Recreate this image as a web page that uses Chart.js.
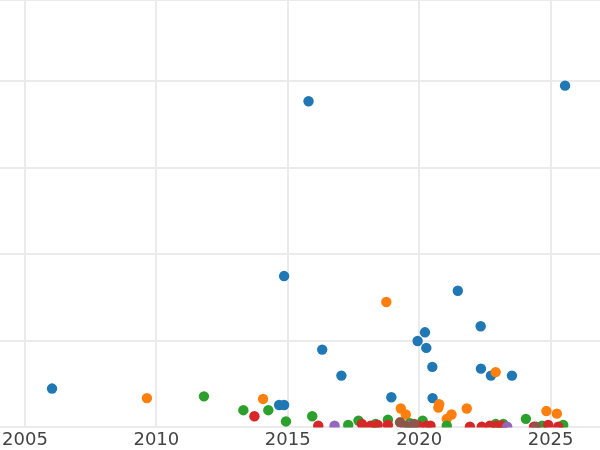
<!DOCTYPE html>
<html>
<head>
<meta charset="utf-8">
<script src="https://cdn.jsdelivr.net/npm/chart.js@4/dist/chart.umd.min.js"></script>
<style>
html,body{margin:0;padding:0;background:#fff;}
#c{display:block;}
</style>
</head>
<body>
<canvas id="c" width="600" height="450"></canvas>
<script>
// Series data: [year, value]
const blueX = [2006.03,2015.79,2025.55,2014.86,2016.31,2017.04,2014.67,2014.86,2018.94,2019.94,2020.22,2020.27,2020.50,2020.51,2021.47,2022.34,2022.35,2022.73,2023.53];
const blueY = [0.45,3.77,3.95,1.75,0.90,0.60,0.26,0.26,0.35,1.00,1.10,0.92,0.70,0.34,1.58,1.17,0.68,0.60,0.60];

const orangeX = [2009.64,2014.06,2018.75,2019.30,2019.49,2020.76,2020.73,2021.05,2021.23,2021.81,2022.91,2024.84,2025.24];
const orangeY = [0.34,0.33,1.45,0.22,0.15,0.27,0.23,0.10,0.15,0.22,0.64,0.19,0.16];

const greenX = [2011.81,2013.31,2014.26,2014.93,2015.93,2017.30,2017.69,2018.34,2018.81,2019.65,2020.13,2021.05,2022.91,2023.20,2024.06,2024.68,2025.48];
const greenY = [0.36,0.20,0.20,0.07,0.13,0.03,0.08,0.04,0.09,0.05,0.08,0.02,0.04,0.04,0.10,0.02,0.03];

const redX = [2013.73,2016.16,2017.82,2018.15,2018.42,2018.81,2019.97,2020.29,2020.43,2021.93,2022.38,2022.69,2022.95,2023.14,2024.37,2024.91,2025.29];
const redY = [0.13,0.02,0.04,0.02,0.03,0.03,0.02,0.02,0.02,0.01,0.01,0.02,0.02,0.02,0.01,0.03,0.01];

const purpleX = [2016.78,2019.61,2023.35];
const purpleY = [0.02,0.02,0.01];

const brownX = [2019.27,2019.46,2019.81,2024.45];
const brownY = [0.06,0.02,0.04,0.01];

const xTickLabels = [2005,2010,2015,2020,2025];

function pts(xs, ys){ return xs.map((x,i)=>({x:x,y:ys[i]})); }

const series = [
  {data: pts(blueX, blueY), color:'#1f77b4', order:6},
  {data: pts(orangeX, orangeY), color:'#ff7f0e', order:5},
  {data: pts(greenX, greenY), color:'#2ca02c', order:4},
  {data: pts(redX, redY), color:'#d62728', order:3},
  {data: pts(purpleX, purpleY), color:'#9467bd', order:2},
  {data: pts(brownX, brownY), color:'#8c564b', order:1}
];

new Chart(document.getElementById('c'), {
  type: 'scatter',
  data: {
    datasets: series.map(s => ({
      data: s.data,
      backgroundColor: s.color,
      borderColor: s.color,
      borderWidth: 0,
      pointRadius: 5.2,
      order: s.order,
      clip: 0
    }))
  },
  options: {
    responsive: false,
    animation: false,
    layout: {padding: {left: 0, right: 0, top: 0, bottom: -3}, autoPadding: false},
    plugins: {legend:{display:false}, tooltip:{enabled:false}},
    scales: {
      x: {
        type: 'linear',
        min: 2004.05,
        max: 2026.88,
        afterBuildTicks: (axis) => { axis.ticks = xTickLabels.map(v => ({value: v})); },
        ticks: {
          font: {family: 'DejaVu Sans', size: 18, lineHeight: 1.4167},
          color: '#444444',
          padding: 0,
          maxRotation: 0,
          callback: (v) => String(v)
        },
        grid: {color: '#ebebeb', lineWidth: 2, drawTicks: false},
        border: {display: false}
      },
      y: {
        min: 0,
        max: 4.94,
        ticks: {display: false, stepSize: 1},
        grid: {color: '#ebebeb', lineWidth: 2, drawTicks: false},
        border: {display: false}
      }
    }
  }
});
</script>
</body>
</html>
